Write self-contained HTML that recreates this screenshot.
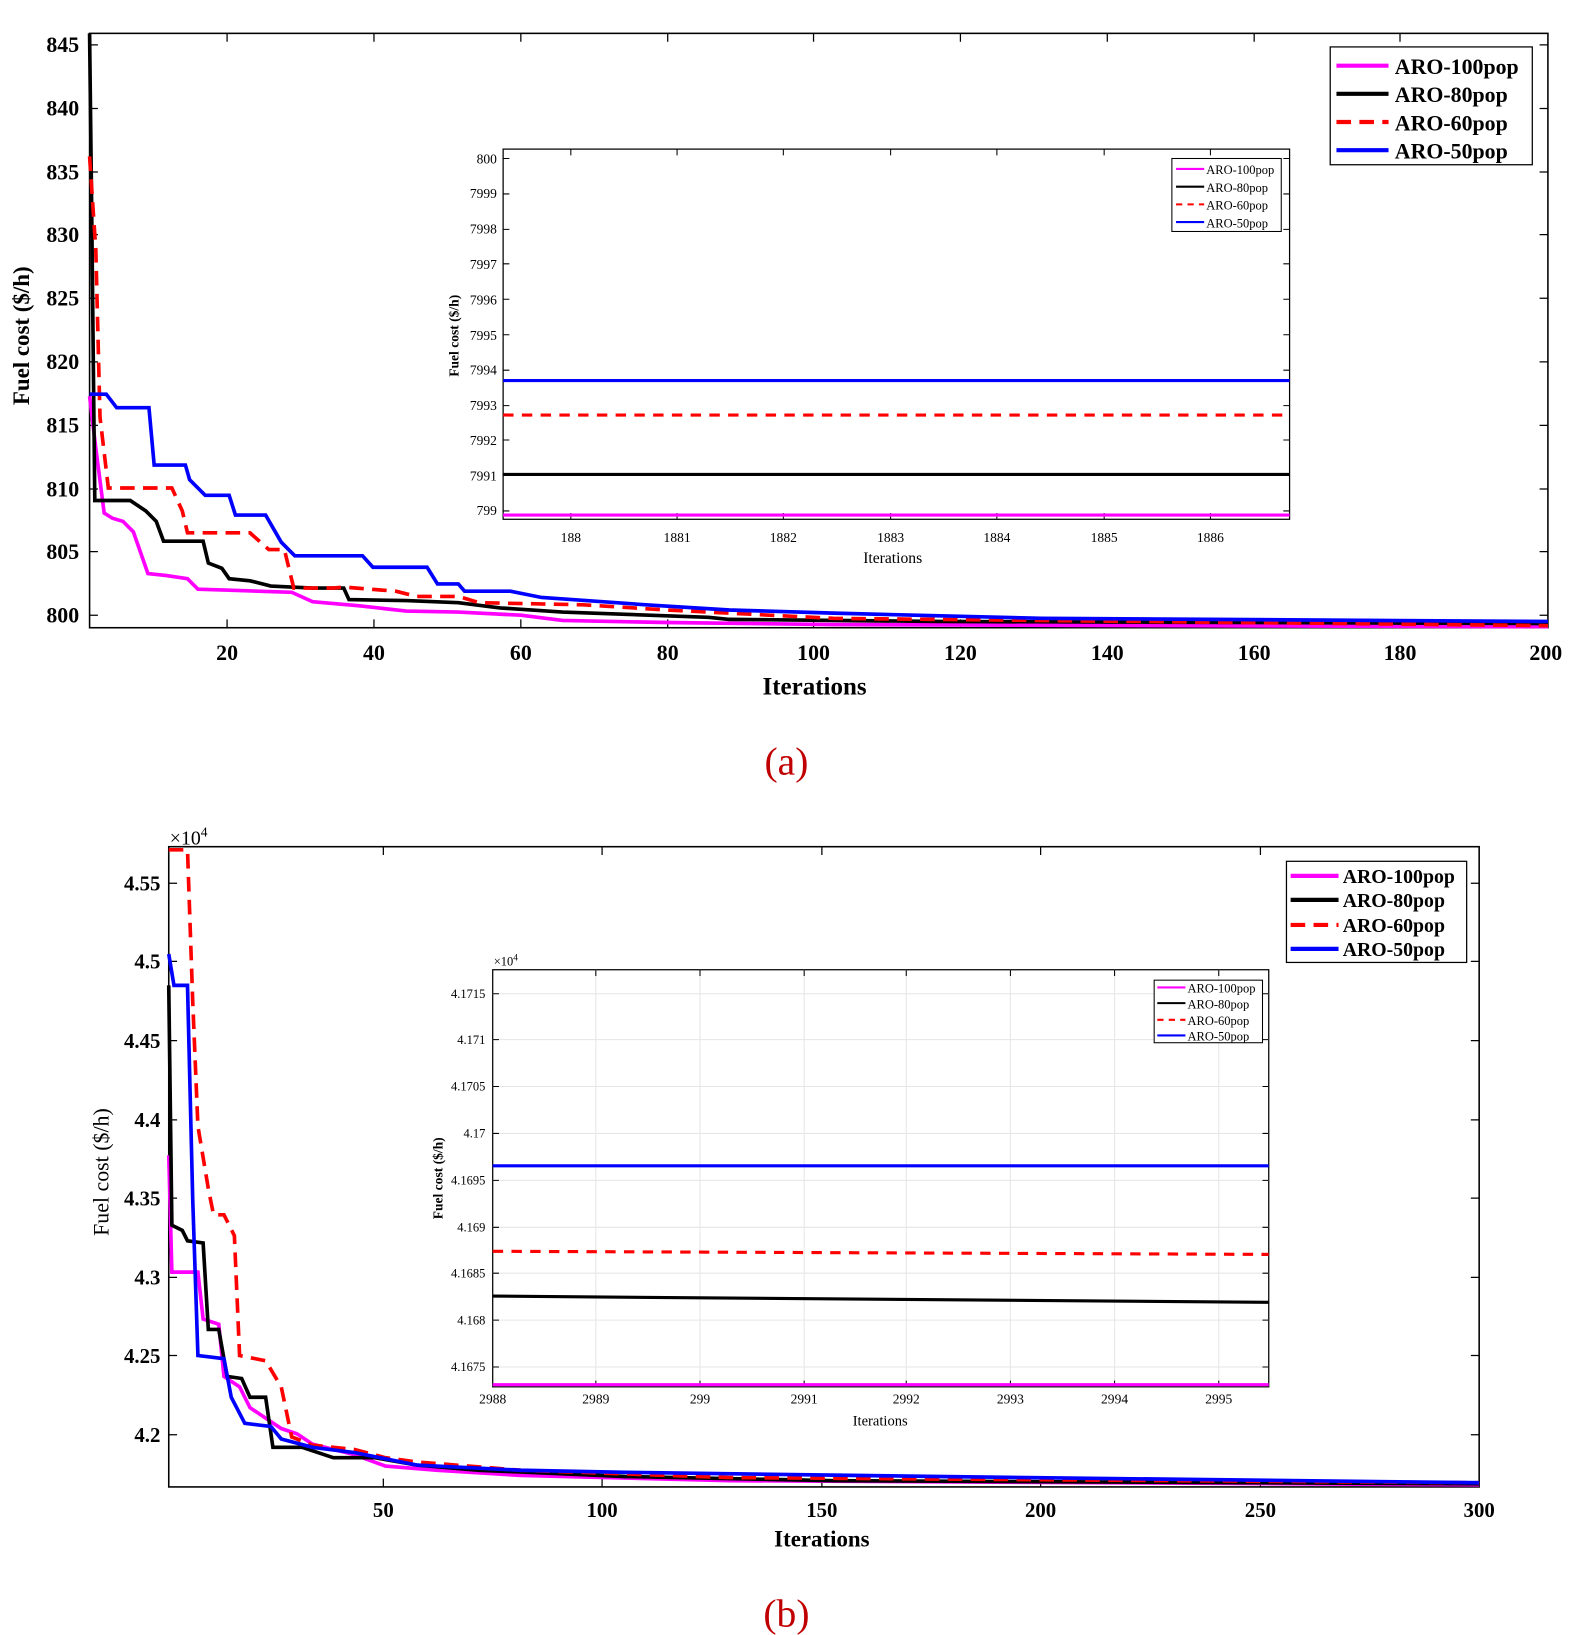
<!DOCTYPE html>
<html><head><meta charset="utf-8"><style>html,body{margin:0;padding:0;background:#fff}svg{display:block}</style></head><body>
<svg width="1575" height="1635" viewBox="0 0 1512 1568" preserveAspectRatio="none" xmlns="http://www.w3.org/2000/svg" font-family="Liberation Serif, serif">
<rect width="1512" height="1568" fill="#fff"/>
<!-- ===== Plot (a) ===== -->
<g fill="none" stroke-linejoin="miter">
<rect x="86" y="32" width="1400" height="570" stroke="#000" stroke-width="1.5"/>
<g stroke="#000" stroke-width="1.2">
<path d="M218,602v-8M359,602v-8M500,602v-8M641,602v-8M781,602v-8M922,602v-8M1063,602v-8M1204,602v-8M1344,602v-8
M218,32v8M359,32v8M500,32v8M641,32v8M781,32v8M922,32v8M1063,32v8M1204,32v8M1344,32v8
M86,43h8M86,104h8M86,165h8M86,225h8M86,286h8M86,347h8M86,408h8M86,469h8M86,529h8M86,590h8
M1486,43h-8M1486,104h-8M1486,165h-8M1486,225h-8M1486,286h-8M1486,347h-8M1486,408h-8M1486,469h-8M1486,529h-8M1486,590h-8"/>
</g>
<polyline stroke="#ff00ff" stroke-width="3.5" points="86,380 92,430 100,492 108,497 118,500 128,510 135,530 142,550 160,552 180,555 190,565 220,566 280,568 300,577 345,581 390,586 440,587 500,590 540,595 640,597 800,599 1486,601"/>
<polyline stroke="#000" stroke-width="3.5" points="86,32 88,200 91,480 125,480 140,490 150,500 157,519 195,519 200,540 213,545 220,555 240,557 260,562 300,564 330,564 335,575 390,576 440,578 480,583 540,587 680,592 700,594 900,596 1486,598"/>
<polyline stroke="#ff0000" stroke-width="3.5" stroke-dasharray="14,8" points="86,150 92,240 96,400 104,468 165,468 175,490 180,511 240,511 258,527 273,527 282,564 320,564 330,563 380,567 400,572 440,572 460,578 560,580 640,585 800,593 1486,600"/>
<polyline stroke="#0000ff" stroke-width="3.5" points="86,378 102,378 112,391 143,391 148,446 178,446 182,460 197,475 220,475 226,494 255,494 270,520 283,533 348,533 358,544 410,544 420,560 440,560 446,567 490,567 520,573 620,580 700,585 800,588 1000,593 1486,596"/>
</g>
<g font-size="21" font-weight="bold" text-anchor="end">
<text x="76" y="50">845</text><text x="76" y="111">840</text><text x="76" y="172">835</text><text x="76" y="232">830</text><text x="76" y="293">825</text><text x="76" y="354">820</text><text x="76" y="415">815</text><text x="76" y="476">810</text><text x="76" y="536">805</text><text x="76" y="597">800</text>
</g>
<g font-size="21" font-weight="bold" text-anchor="middle">
<text x="218" y="633">20</text><text x="359" y="633">40</text><text x="500" y="633">60</text><text x="641" y="633">80</text><text x="781" y="633">100</text><text x="922" y="633">120</text><text x="1063" y="633">140</text><text x="1204" y="633">160</text><text x="1344" y="633">180</text><text x="1484" y="633">200</text>
<text x="782" y="666" font-size="24">Iterations</text>
<text x="28" y="322" font-size="22" transform="rotate(-90 28 322)">Fuel cost ($/h)</text>
<text x="755" y="743" font-size="38" font-weight="normal" fill="#c00000">(a)</text>
</g>
<!-- legend a -->
<rect x="1277" y="45" width="194" height="113" fill="#fff" stroke="#000" stroke-width="1.2"/>
<g stroke-width="4"><path d="M1283,63h50" stroke="#ff00ff"/><path d="M1283,90h50" stroke="#000"/><path d="M1283,117h50" stroke="#ff0000" stroke-dasharray="14,8"/><path d="M1283,144h50" stroke="#0000ff"/></g>
<g font-size="21" font-weight="bold"><text x="1339" y="71">ARO-100pop</text><text x="1339" y="98">ARO-80pop</text><text x="1339" y="125">ARO-60pop</text><text x="1339" y="152">ARO-50pop</text></g>
<!-- inset a -->
<rect x="483" y="143" width="755" height="355" fill="#fff" stroke="#000" stroke-width="1.2"/>
<g stroke="#000" stroke-width="1"><path d="M548,498v-6M650,498v-6M752,498v-6M855,498v-6M957,498v-6M1060,498v-6M1162,498v-6M548,143v6M650,143v6M752,143v6M855,143v6M957,143v6M1060,143v6M1162,143v6
M483,152h6M483,186h6M483,220h6M483,253h6M483,287h6M483,321h6M483,355h6M483,389h6M483,422h6M483,456h6M483,490h6
M1238,152h-6M1238,186h-6M1238,220h-6M1238,253h-6M1238,287h-6M1238,321h-6M1238,355h-6M1238,389h-6M1238,422h-6M1238,456h-6M1238,490h-6"/></g>
<g stroke-width="3" fill="none"><path d="M483,365H1238" stroke="#0000ff"/><path d="M483,398H1238" stroke="#ff0000" stroke-dasharray="10,8"/><path d="M483,455H1238" stroke="#000"/><path d="M483,494H1238" stroke="#ff00ff"/></g>
<g font-size="13" text-anchor="end"><text x="477" y="157">800</text><text x="477" y="190">7999</text><text x="477" y="224">7998</text><text x="477" y="258">7997</text><text x="477" y="292">7996</text><text x="477" y="326">7995</text><text x="477" y="359">7994</text><text x="477" y="393">7993</text><text x="477" y="427">7992</text><text x="477" y="461">7991</text><text x="477" y="494">799</text></g>
<g font-size="13" text-anchor="middle"><text x="548" y="520">188</text><text x="650" y="520">1881</text><text x="752" y="520">1882</text><text x="855" y="520">1883</text><text x="957" y="520">1884</text><text x="1060" y="520">1885</text><text x="1162" y="520">1886</text>
<text x="857" y="540" font-size="15">Iterations</text><text x="440" y="322" font-size="13" font-weight="bold" transform="rotate(-90 440 322)">Fuel cost ($/h)</text></g>
<rect x="1125" y="152" width="105" height="70" fill="#fff" stroke="#000"/>
<g stroke-width="2"><path d="M1129,162h27" stroke="#ff00ff"/><path d="M1129,179h27" stroke="#000"/><path d="M1129,196h27" stroke="#ff0000" stroke-dasharray="6,5"/><path d="M1129,213h27" stroke="#0000ff"/></g>
<g font-size="12"><text x="1158" y="167">ARO-100pop</text><text x="1158" y="184">ARO-80pop</text><text x="1158" y="201">ARO-60pop</text><text x="1158" y="218">ARO-50pop</text></g>

<!-- ===== Plot (b) ===== -->
<g fill="none">
<rect x="162" y="812" width="1258" height="614" stroke="#000" stroke-width="1.5"/>
<g stroke="#000" stroke-width="1.2"><path d="M368,1426v-8M578,1426v-8M789,1426v-8M999,1426v-8M1210,1426v-8M368,812v8M578,812v8M789,812v8M999,812v8M1210,812v8
M162,847h8M162,922h8M162,998h8M162,1074h8M162,1149h8M162,1225h8M162,1300h8M162,1376h8
M1420,847h-8M1420,922h-8M1420,998h-8M1420,1074h-8M1420,1149h-8M1420,1225h-8M1420,1300h-8M1420,1376h-8"/></g>
<polyline stroke="#ff00ff" stroke-width="3.5" points="162,1108 165,1220 190,1220 195,1265 210,1270 215,1320 230,1330 240,1350 255,1360 270,1370 285,1375 300,1385 340,1395 370,1406 420,1410 500,1415 700,1420 1420,1424"/>
<polyline stroke="#000" stroke-width="3.5" points="162,945 165,1175 175,1180 180,1190 195,1192 200,1275 210,1275 218,1320 232,1322 240,1340 255,1340 262,1388 290,1388 320,1398 360,1398 400,1405 460,1410 600,1416 800,1420 1420,1423"/>
<polyline stroke="#ff0000" stroke-width="3.5" stroke-dasharray="14,8" points="162,815 180,815 185,960 190,1080 200,1140 205,1165 215,1165 225,1185 230,1300 255,1305 270,1330 280,1378 300,1386 340,1390 370,1398 400,1402 500,1410 700,1417 1420,1422"/>
<polyline stroke="#0000ff" stroke-width="3.5" points="162,915 167,945 180,945 185,1150 190,1300 215,1303 222,1340 235,1365 260,1368 270,1380 300,1388 340,1393 400,1405 500,1410 600,1412 900,1416 1420,1422"/>
</g>
<g font-size="20" font-weight="bold" text-anchor="end">
<text x="154" y="854">4.55</text><text x="154" y="929">4.5</text><text x="154" y="1005">4.45</text><text x="154" y="1081">4.4</text><text x="154" y="1156">4.35</text><text x="154" y="1232">4.3</text><text x="154" y="1307">4.25</text><text x="154" y="1383">4.2</text>
</g>
<text x="163" y="810" font-size="19">×10<tspan font-size="13" dy="-8">4</tspan></text>
<g font-size="20" font-weight="bold" text-anchor="middle">
<text x="368" y="1455">50</text><text x="578" y="1455">100</text><text x="789" y="1455">150</text><text x="999" y="1455">200</text><text x="1210" y="1455">250</text><text x="1420" y="1455">300</text>
<text x="789" y="1483" font-size="22">Iterations</text>
<text x="104" y="1124" font-size="21" font-weight="normal" transform="rotate(-90 104 1124)">Fuel cost ($/h)</text>
<text x="755" y="1560" font-size="38" font-weight="normal" fill="#c00000">(b)</text>
</g>
<rect x="1235" y="826" width="173" height="97" fill="#fff" stroke="#000" stroke-width="1.2"/>
<g stroke-width="4"><path d="M1239,840h46" stroke="#ff00ff"/><path d="M1239,863h46" stroke="#000"/><path d="M1239,887h46" stroke="#ff0000" stroke-dasharray="14,8"/><path d="M1239,910h46" stroke="#0000ff"/></g>
<g font-size="19" font-weight="bold"><text x="1289" y="847">ARO-100pop</text><text x="1289" y="870">ARO-80pop</text><text x="1289" y="894">ARO-60pop</text><text x="1289" y="917">ARO-50pop</text></g>
<!-- inset b -->
<rect x="473" y="930" width="745" height="400" fill="#fff" stroke="#000" stroke-width="1.2"/>
<g stroke="#e6e6e6" stroke-width="1"><path d="M572,930v400M672,930v400M772,930v400M870,930v400M970,930v400M1070,930v400M1170,930v400M473,953h745M473,997h745M473,1042h745M473,1087h745M473,1132h745M473,1177h745M473,1221h745M473,1266h745M473,1311h745"/></g>
<g stroke="#000" stroke-width="1"><path d="M572,1330v-6M672,1330v-6M772,1330v-6M870,1330v-6M970,1330v-6M1070,1330v-6M1170,1330v-6M572,930v6M672,930v6M772,930v6M870,930v6M970,930v6M1070,930v6M1170,930v6
M473,953h6M473,997h6M473,1042h6M473,1087h6M473,1132h6M473,1177h6M473,1221h6M473,1266h6M473,1311h6
M1218,953h-6M1218,997h-6M1218,1042h-6M1218,1087h-6M1218,1132h-6M1218,1177h-6M1218,1221h-6M1218,1266h-6M1218,1311h-6"/></g>
<g stroke-width="3" fill="none"><path d="M473,1118H1218" stroke="#0000ff"/><path d="M473,1200L1218,1203" stroke="#ff0000" stroke-dasharray="10,8"/><path d="M473,1243L1218,1249" stroke="#000"/><path d="M473,1328H1218" stroke="#ff00ff"/></g>
<g font-size="12" text-anchor="end"><text x="466" y="957">4.1715</text><text x="466" y="1001">4.171</text><text x="466" y="1046">4.1705</text><text x="466" y="1091">4.17</text><text x="466" y="1136">4.1695</text><text x="466" y="1181">4.169</text><text x="466" y="1225">4.1685</text><text x="466" y="1270">4.168</text><text x="466" y="1315">4.1675</text></g>
<text x="474" y="926" font-size="12">×10<tspan font-size="9" dy="-5">4</tspan></text>
<g font-size="13" text-anchor="middle"><text x="473" y="1346">2988</text><text x="572" y="1346">2989</text><text x="672" y="1346">299</text><text x="772" y="1346">2991</text><text x="870" y="1346">2992</text><text x="970" y="1346">2993</text><text x="1070" y="1346">2994</text><text x="1170" y="1346">2995</text>
<text x="845" y="1367" font-size="14">Iterations</text><text x="425" y="1130" font-size="13" font-weight="bold" transform="rotate(-90 425 1130)">Fuel cost ($/h)</text></g>
<rect x="1108" y="940" width="104" height="60" fill="#fff" stroke="#000"/>
<g stroke-width="2"><path d="M1111,947h27" stroke="#ff00ff"/><path d="M1111,962h27" stroke="#000"/><path d="M1111,978h27" stroke="#ff0000" stroke-dasharray="6,5"/><path d="M1111,993h27" stroke="#0000ff"/></g>
<g font-size="12"><text x="1140" y="952">ARO-100pop</text><text x="1140" y="967">ARO-80pop</text><text x="1140" y="983">ARO-60pop</text><text x="1140" y="998">ARO-50pop</text></g>
</svg>
</body></html>
